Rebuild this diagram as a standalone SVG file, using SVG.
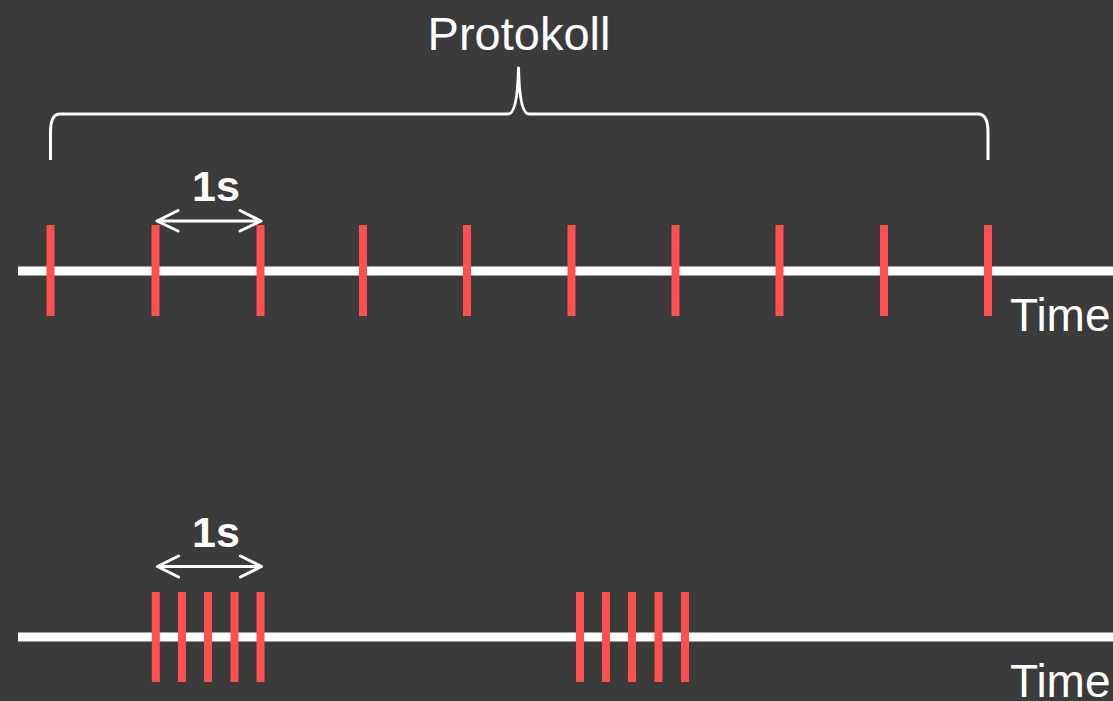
<svg xmlns="http://www.w3.org/2000/svg" width="1113" height="701" viewBox="0 0 1113 701">
  <defs>
    <style>
      .axis { stroke: #ffffff; stroke-width: 9; fill: none; }
      .tick { stroke: #ff5050; stroke-width: 8; }
      .brace { stroke: #ffffff; stroke-width: 3; fill: none; stroke-linejoin: round; }
      .dim { stroke: #ffffff; stroke-width: 3; fill: none; stroke-linecap: round; stroke-linejoin: round; }
      .label { font-family: "Liberation Sans", Arial, sans-serif; fill: #ffffff; }
      .big { font-size: 46px; }
      .bold { font-size: 43px; font-weight: bold; }
    </style>
  </defs>
  <rect width="1113" height="701" fill="#3b3b3b"/>

  <!-- Protokoll brace -->
  <g id="protokoll">
    <path class="brace" d="M50.5 160 L50.5 132 Q50.5 114 60 114 L508 114 Q517.5 114 518.5 68 Q519.5 114 529 114 L978 114 Q988 114 988 132 L988 160"/>
    <text class="label" x="519" y="50" font-size="47" text-anchor="middle">Protokoll</text>
  </g>

  <!-- Top timeline: one sample per second -->
  <g id="timeline-regular">
    <line class="axis" x1="18" y1="271" x2="1113" y2="271"/>
    <g id="ticks-regular">
      <line class="tick" x1="50.5" y1="225" x2="50.5" y2="316"/>
      <line class="tick" x1="155.5" y1="225" x2="155.5" y2="316"/>
      <line class="tick" x1="260.5" y1="225" x2="260.5" y2="316"/>
      <line class="tick" x1="363" y1="225" x2="363" y2="316"/>
      <line class="tick" x1="467" y1="225" x2="467" y2="316"/>
      <line class="tick" x1="571.5" y1="225" x2="571.5" y2="316"/>
      <line class="tick" x1="675.5" y1="225" x2="675.5" y2="316"/>
      <line class="tick" x1="779.5" y1="225" x2="779.5" y2="316"/>
      <line class="tick" x1="884" y1="225" x2="884" y2="316"/>
      <line class="tick" x1="988" y1="225" x2="988" y2="316"/>
    </g>
    <text class="label big" x="1010" y="331">Time</text>
  </g>

  <!-- Top 1s dimension -->
  <g id="dim-top">
    <path class="dim" d="M157 221 L261 221 M178 210.5 L157 221 L178 231 M240 210.5 L261 221 L240 231"/>
    <text class="label bold" x="216" y="201" text-anchor="middle">1s</text>
  </g>

  <!-- Bottom timeline: bursts -->
  <g id="timeline-burst">
    <line class="axis" x1="18" y1="637" x2="1113" y2="637"/>
    <g id="burst-1">
      <line class="tick" x1="155.8" y1="592" x2="155.8" y2="682"/>
      <line class="tick" x1="182" y1="592" x2="182" y2="682"/>
      <line class="tick" x1="208" y1="592" x2="208" y2="682"/>
      <line class="tick" x1="234.5" y1="592" x2="234.5" y2="682"/>
      <line class="tick" x1="260.5" y1="592" x2="260.5" y2="682"/>
    </g>
    <g id="burst-2">
      <line class="tick" x1="580" y1="592" x2="580" y2="682"/>
      <line class="tick" x1="606" y1="592" x2="606" y2="682"/>
      <line class="tick" x1="632" y1="592" x2="632" y2="682"/>
      <line class="tick" x1="658.5" y1="592" x2="658.5" y2="682"/>
      <line class="tick" x1="685" y1="592" x2="685" y2="682"/>
    </g>
    <text class="label big" x="1010" y="697">Time</text>
  </g>

  <!-- Bottom 1s dimension -->
  <g id="dim-bottom">
    <path class="dim" d="M157.5 566.5 L261.5 566.5 M178.5 556 L157.5 566.5 L178.5 577 M240.5 556 L261.5 566.5 L240.5 577"/>
    <text class="label bold" x="216" y="547" text-anchor="middle">1s</text>
  </g>
</svg>
